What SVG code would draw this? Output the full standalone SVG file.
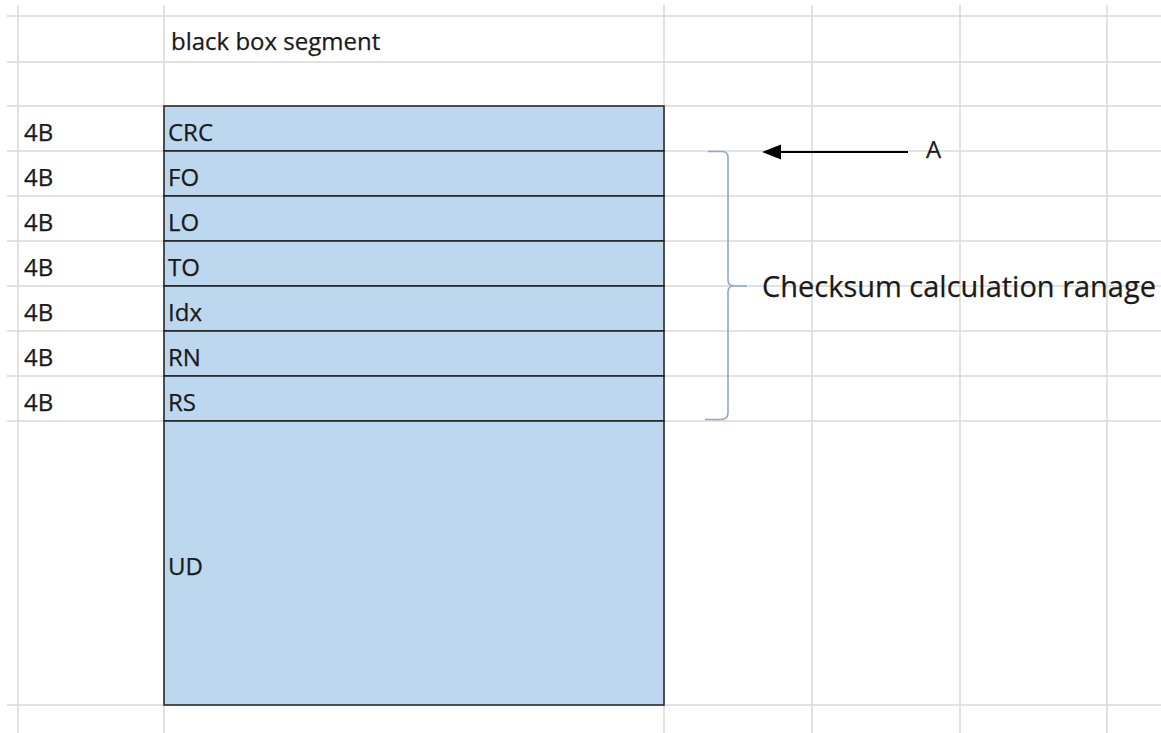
<svg xmlns="http://www.w3.org/2000/svg" width="1161" height="733" viewBox="0 0 1161 733">
  <style>
    .grid line { stroke: #d9d9d9; stroke-width: 1.5; }
    .cell { fill: #bdd7ee; stroke: #1f1f1f; stroke-width: 1.5; }
    .txt { font-family: "Open Sans", "Noto Sans", sans-serif; font-size: 24px; fill: #1a1a1a; stroke: #1a1a1a; stroke-width: 0.25; }
    .big { font-size: 29px; }
    .brace { fill: none; stroke: #8fa8cc; stroke-width: 1.6; }
    .arrow { stroke: #000; stroke-width: 1.8; }
  </style>
  <rect width="1161" height="733" fill="#fff"/>

  <!-- sheet gridlines -->
  <g id="grid" class="grid">
    <line x1="18" y1="5" x2="18" y2="733"/>
    <line x1="164" y1="5" x2="164" y2="733"/>
    <line x1="664" y1="5" x2="664" y2="733"/>
    <line x1="812" y1="5" x2="812" y2="733"/>
    <line x1="960" y1="5" x2="960" y2="733"/>
    <line x1="1107" y1="5" x2="1107" y2="733"/>
    <line x1="7" y1="16" x2="1161" y2="16"/>
    <line x1="7" y1="62" x2="1161" y2="62"/>
    <line x1="7" y1="106" x2="1161" y2="106"/>
    <line x1="7" y1="151" x2="1161" y2="151"/>
    <line x1="7" y1="196" x2="1161" y2="196"/>
    <line x1="7" y1="241" x2="1161" y2="241"/>
    <line x1="7" y1="286" x2="1161" y2="286"/>
    <line x1="7" y1="331" x2="1161" y2="331"/>
    <line x1="7" y1="376" x2="1161" y2="376"/>
    <line x1="7" y1="421" x2="1161" y2="421"/>
    <line x1="7" y1="705" x2="1161" y2="705"/>
  </g>

  <g id="title">
    <text class="txt" x="171" y="50">black box segment</text>
  </g>

  <!-- segment fields -->
  <g id="crc">
    <rect class="cell" x="164" y="106" width="500" height="45"/>
    <text class="txt" x="24" y="141">4B</text>
    <text class="txt" x="168" y="141">CRC</text>
  </g>
  <g id="fo">
    <rect class="cell" x="164" y="151" width="500" height="45"/>
    <text class="txt" x="24" y="186">4B</text>
    <text class="txt" x="168" y="186">FO</text>
  </g>
  <g id="lo">
    <rect class="cell" x="164" y="196" width="500" height="45"/>
    <text class="txt" x="24" y="231">4B</text>
    <text class="txt" x="168" y="231">LO</text>
  </g>
  <g id="to">
    <rect class="cell" x="164" y="241" width="500" height="45"/>
    <text class="txt" x="24" y="276">4B</text>
    <text class="txt" x="168" y="276">TO</text>
  </g>
  <g id="idx">
    <rect class="cell" x="164" y="286" width="500" height="45"/>
    <text class="txt" x="24" y="321">4B</text>
    <text class="txt" x="168" y="321">Idx</text>
  </g>
  <g id="rn">
    <rect class="cell" x="164" y="331" width="500" height="45"/>
    <text class="txt" x="24" y="366">4B</text>
    <text class="txt" x="168" y="366">RN</text>
  </g>
  <g id="rs">
    <rect class="cell" x="164" y="376" width="500" height="45"/>
    <text class="txt" x="24" y="411">4B</text>
    <text class="txt" x="168" y="411">RS</text>
  </g>
  <g id="ud">
    <rect class="cell" x="164" y="421" width="500" height="284"/>
    <text class="txt" x="168" y="575">UD</text>
  </g>

  <g id="label-a">
    <text class="txt" x="926" y="158" font-size="23">A</text>
  </g>
  <g id="range-label">
    <text class="txt big" x="762" y="297" textLength="394" lengthAdjust="spacingAndGlyphs">Checksum calculation ranage</text>
  </g>

  <!-- pointer and range brace -->
  <g id="connectors">
    <line class="arrow" x1="908" y1="152" x2="778" y2="152"/>
    <polygon points="762,152 781,144.5 781,159.5" fill="#000"/>
    <path class="brace" d="M708,151.5 H722 Q728,151.5 728,157.5 V280 Q728,286 734,286 H747 M734,286 Q728,286 728,292 V413 Q728,419.5 721,419.5 H705"/>
  </g>
</svg>
